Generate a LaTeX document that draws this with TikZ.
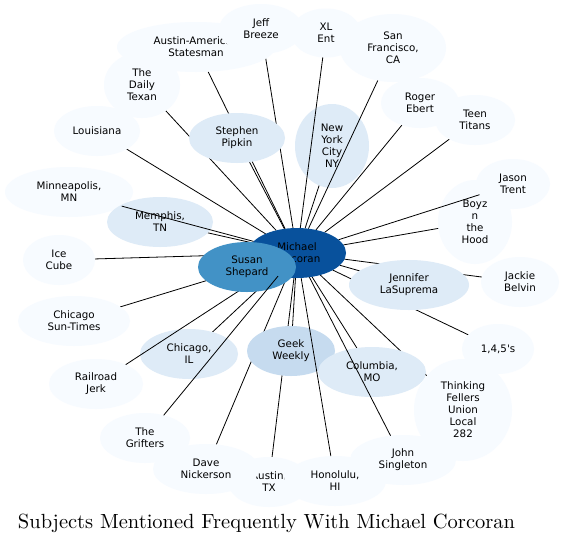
\documentclass[tikz,border=0pt]{standalone}
\usepackage{fontspec}
\usepackage{graphicx}
\usetikzlibrary{shapes.geometric}
\newfontfamily\dv{DejaVu Sans}
\definecolor{cA}{HTML}{F7FBFF}
\definecolor{cB}{HTML}{DEEBF7}
\definecolor{cC}{HTML}{C6DBEF}
\definecolor{cF}{HTML}{4292C6}
\definecolor{cH}{HTML}{08519C}
\pgfdeclarelayer{bg}
\pgfdeclarelayer{top}
\pgfdeclarelayer{over}
\pgfsetlayers{bg,main,top,over}
\tikzset{
  nd/.style={ellipse, draw=none, inner sep=0pt, outer sep=0pt, align=center,
    font=\dv\fontsize{10.3}{12}\selectfont, text=black},
  sz/.style 2 args={minimum width=#1pt, minimum height=#2pt},
  ln/.style={draw=black, line width=0.8pt}
}
\begin{document}
\begin{tikzpicture}[x=1pt,y=-1pt]
\useasboundingbox (0,0) rectangle (564,544);
% nodes, in drawing order
\node[nd, fill=cA, sz={158}{50}] (aa) at (196,47) {Austin-American\\Statesman};
\node[nd, fill=cA, sz={84}{50}] (jeff) at (261,29) {Jeff\\Breeze};
\node[nd, fill=cA, sz={70}{49}] (xl) at (326,33) {XL\\Ent};
\node[nd, fill=cA, sz={106}{68}] (sf) at (393,48) {San\\Francisco,\\CA};
\node[nd, fill=cA, sz={78}{50}] (roger) at (420,103) {Roger\\Ebert};
\node[nd, fill=cA, sz={80}{50}] (teen) at (475,120) {Teen\\Titans};
\node[nd, fill=cB, sz={74}{84}] (nyc) at (332,146) {New\\York\\City\\NY};
\node[nd, fill=cB, sz={96}{50}] (steph) at (237,138) {Stephen\\Pipkin};
\node[nd, fill=cA, sz={76}{66}] (texan) at (142,85) {The\\Daily\\Texan};
\node[nd, fill=cA, sz={86}{50}] (louis) at (97,131) {Louisiana};
\node[nd, fill=cA, sz={128}{50}] (minn) at (69,192) {Minneapolis,\\MN};
\node[nd, fill=cB, sz={106}{50}] (memph) at (160,222) {Memphis,\\TN};
\node[nd, fill=cA, sz={72}{50}] (ice) at (59,260) {Ice\\Cube};
\node[nd, fill=cA, sz={112}{50}] (sun) at (74,321) {Chicago\\Sun-Times};
\node[nd, fill=cB, sz={98}{50}] (chil) at (189,354) {Chicago,\\IL};
\node[nd, fill=cA, sz={94}{50}] (rail) at (96,384) {Railroad\\Jerk};
\node[nd, fill=cA, sz={90}{50}] (grif) at (145,438) {The\\Grifters};
\node[nd, fill=cA, sz={82}{50}] (austx) at (269,482) {Austin,\\TX};
\node[nd, fill=cA, sz={106}{50}] (dave) at (206,469) {Dave\\Nickerson};
\node[nd, fill=cA, sz={102}{50}] (hono) at (335,481) {Honolulu,\\HI};
\node[nd, fill=cC, sz={88}{50}] (geek) at (291,351) {Geek\\Weekly};
\node[nd, fill=cB, sz={108}{50}] (colum) at (372,372) {Columbia,\\MO};
\node[nd, fill=cA, sz={106}{50}] (john) at (403,460) {John\\Singleton};
\node[nd, fill=cA, sz={98}{102}] (think) at (463,410) {Thinking\\Fellers\\Union\\Local\\282};
\node[nd, fill=cA, sz={72}{50}] (ones) at (498,349) {1,4,5's};
\node[nd, fill=cB, sz={120}{50}] (jenn) at (409,285) {Jennifer\\LaSuprema};
\node[nd, fill=cA, sz={78}{50}] (jack) at (520,282) {Jackie\\Belvin};
\node[nd, fill=cA, sz={74}{84}] (boyz) at (475,222) {Boyz\\n\\the\\Hood};
\node[nd, fill=cA, sz={74}{50}] (jason) at (513,184) {Jason\\Trent};
\begin{pgfonlayer}{top}
\node[nd, fill=cH, sz={98}{50}] (mc) at (297,253) {Michael\\Corcoran};
\node[nd, fill=cF, sz={98}{50}] (susan) at (247,267) {Susan\\Shepard};
\end{pgfonlayer}
% white page and the edges hidden under nodes
\begin{pgfonlayer}{bg}
\fill[white] (0,0) rectangle (564,544);
\foreach \t in {aa,jeff,roger,teen,nyc,steph,texan,louis,memph,ice,sun,chil,austx,dave,geek,colum,think,ones,jenn,jack,boyz,susan}
  \draw[ln] (mc) -- (\t);
\end{pgfonlayer}
% edges drawn over the outer nodes
\foreach \t in {minn,sf,xl,john,jason,hono,rail}
  \draw[ln] (mc) -- (\t);
% edge drawn over Susan Shepard
\begin{pgfonlayer}{over}
\draw[ln] (mc) -- (grif);
\end{pgfonlayer}
% title
\node[anchor=base, inner sep=0pt] (title) at (266.5,528) {\resizebox{497pt}{!}{Subjects Mentioned Frequently With Michael Corcoran}};
\end{tikzpicture}
\end{document}
